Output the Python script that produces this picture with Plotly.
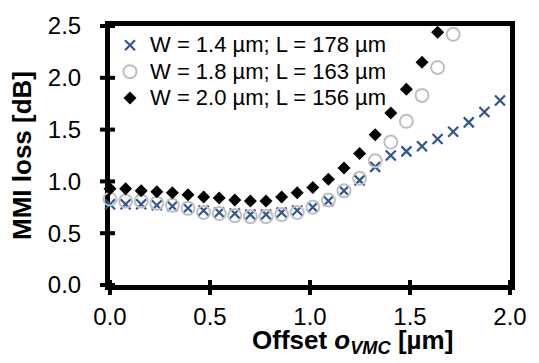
import plotly.graph_objects as go

offset = [0.000, 0.078, 0.156, 0.234, 0.312, 0.390, 0.468, 0.546, 0.624, 0.702,
          0.780, 0.858, 0.936, 1.014, 1.092, 1.170, 1.248, 1.326, 1.404, 1.482,
          1.560, 1.638, 1.716, 1.794, 1.872, 1.950]

loss_w14 = [0.78, 0.78, 0.78, 0.77, 0.76, 0.74, 0.72, 0.70, 0.69, 0.68,
            0.68, 0.70, 0.72, 0.75, 0.81, 0.91, 1.01, 1.14, 1.25, 1.29,
            1.34, 1.41, 1.48, 1.57, 1.67, 1.78]
loss_w18 = [0.83, 0.81, 0.81, 0.79, 0.77, 0.74, 0.70, 0.69, 0.67, 0.66,
            0.66, 0.68, 0.70, 0.75, 0.82, 0.91, 1.03, 1.20, 1.38, 1.58,
            1.83, 2.10, 2.42]
loss_w20 = [0.93, 0.93, 0.91, 0.90, 0.89, 0.87, 0.85, 0.84, 0.82, 0.81,
            0.81, 0.85, 0.89, 0.94, 1.02, 1.13, 1.27, 1.45, 1.66, 1.89,
            2.15, 2.44]

names = ["W = 1.4 µm; L = 178 µm", "W = 1.8 µm; L = 163 µm", "W = 2.0 µm; L = 156 µm"]
tick_vals_x = [0.0, 0.5, 1.0, 1.5, 2.0]
tick_vals_y = [0.0, 0.5, 1.0, 1.5, 2.0, 2.5]
x_range = [0, 2.0]
y_range = [0, 2.5]

FONT = "Arial, Liberation Sans, sans-serif"

def leg(t):
    return f'<span style="font-size:22px">{t}</span>'

fig = go.Figure()
fig.add_trace(go.Scatter(x=offset[:len(loss_w14)], y=loss_w14, mode="markers", name=leg(names[0]),
                         marker=dict(symbol="x-thin", size=10, line=dict(color="#2F5597", width=2.2), color="#2F5597"),
                         cliponaxis=False))
fig.add_trace(go.Scatter(x=offset[:len(loss_w18)], y=loss_w18, mode="markers", name=leg(names[1]),
                         marker=dict(symbol="circle-open", size=13, line=dict(color="#BFBFBF", width=2), color="#BFBFBF"),
                         cliponaxis=False))
fig.add_trace(go.Scatter(x=offset[:len(loss_w20)], y=loss_w20, mode="markers", name=leg(names[2]),
                         marker=dict(symbol="diamond", size=10, color="black", line=dict(width=0)),
                         cliponaxis=False))

axis_common = dict(showgrid=False, zeroline=False, showline=True, linecolor="#000000", linewidth=5,
                   mirror=True, ticks="outside", tickwidth=4,
                   tickfont=dict(family=FONT, size=24, color="black"), layer="below traces")

fig.update_layout(
    width=539, height=363,
    margin=dict(l=110, r=26, t=19, b=78),
    paper_bgcolor="white", plot_bgcolor="white",
    font=dict(family=FONT, color="black"),
    showlegend=True,
    legend=dict(x=0.0, y=0.996, xanchor="left", yanchor="top", bgcolor="rgba(0,0,0,0)",
                font=dict(family=FONT, size=18, color="black"), itemwidth=30, tracegroupgap=0),
    xaxis=dict(range=x_range, tickvals=tick_vals_x, tickformat=".1f", ticklabelstandoff=1,
               ticklen=5, tickcolor="#000000", **axis_common),
    yaxis=dict(range=y_range, tickvals=tick_vals_y, tickformat=".1f",
               ticklen=19, tickcolor="rgba(0,0,0,0)",
               title=dict(text="<b>MMI loss [dB]</b>", font=dict(family=FONT, size=26, color="black"), standoff=10),
               **axis_common),
)

# inner halves of the crossing x tick marks
for tv in tick_vals_x:
    fig.add_shape(type="line", xref="x", x0=tv, x1=tv, yref="y", ysizemode="pixel", yanchor=0, y0=0, y1=5,
                  line=dict(color="black", width=4), layer="below")
# full crossing y tick marks (axis ticks are transparent, used only to space the labels)
for tv in tick_vals_y:
    yp = (tv - y_range[0]) / (y_range[1] - y_range[0])
    fig.add_shape(type="line", yref="paper", y0=yp, y1=yp, xref="paper", xsizemode="pixel", xanchor=0,
                  x0=-10, x1=5, line=dict(color="black", width=4), layer="above")

fig.add_annotation(text="<b>Offset <i>o</i><sub><i>VMC</i></sub> [µm]</b>", xref="paper", yref="paper",
                   x=0.605, y=-0.218, xanchor="center", yanchor="middle", showarrow=False,
                   font=dict(family=FONT, size=26, color="black"))

fig.write_html("out.html")
